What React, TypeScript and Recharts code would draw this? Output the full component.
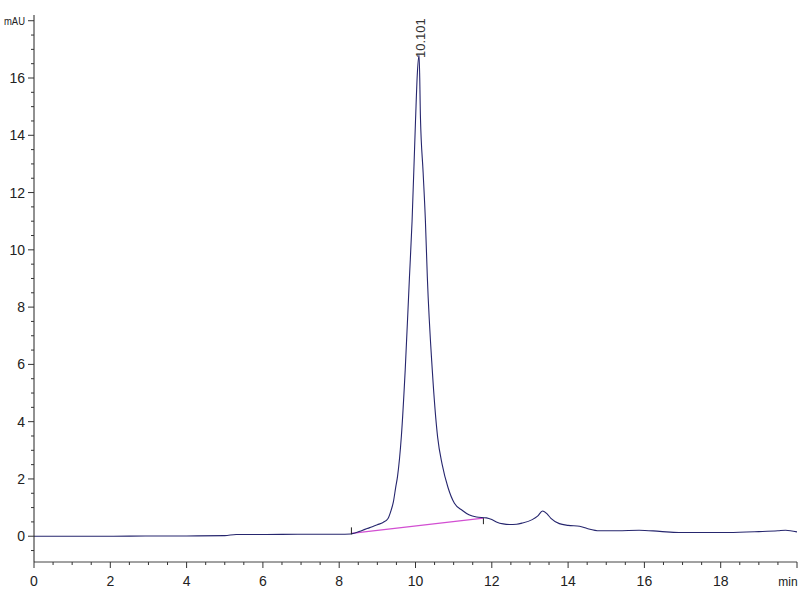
import React from 'react';
import { LineChart, Line, XAxis, YAxis, ReferenceDot } from 'recharts';

const timeMin = [0, 1, 2, 3, 4, 5, 5.3, 6, 7, 8, 8.3, 8.6, 8.8, 9.0, 9.15, 9.28, 9.36, 9.42, 9.48, 9.53, 9.63, 9.73, 9.84, 9.91, 10.0, 10.05, 10.095, 10.13, 10.2, 10.26, 10.31, 10.44, 10.58, 10.7, 10.85, 11.02, 11.23, 11.4, 11.6, 11.86, 12.0, 12.12, 12.3, 12.46, 12.65, 12.8, 13.06, 13.2, 13.33, 13.45, 13.55, 13.77, 14.0, 14.3, 14.5, 14.82, 15.3, 15.86, 16.4, 16.9, 17.5, 18.2, 19.0, 19.5, 19.7, 20.0];
const signalMAU = [0.0, 0.0, 0.0, 0.01, 0.01, 0.02, 0.06, 0.06, 0.07, 0.07, 0.08, 0.2, 0.3, 0.4, 0.48, 0.62, 0.9, 1.2, 1.7, 2.1, 3.5, 5.8, 9.0, 11.0, 14.5, 16.2, 16.8, 14.6, 12.7, 11.0, 9.05, 5.8, 3.46, 2.5, 1.71, 1.15, 0.9, 0.75, 0.67, 0.64, 0.58, 0.5, 0.43, 0.41, 0.42, 0.46, 0.58, 0.7, 0.88, 0.78, 0.62, 0.44, 0.38, 0.35, 0.27, 0.19, 0.19, 0.21, 0.17, 0.13, 0.13, 0.13, 0.16, 0.19, 0.21, 0.15];

const baselineTime = [8.32, 11.78];
const baselineMAU = [0.1, 0.63];

const peakTime = 10.101;
const peakMAU = 16.8;
const peakLabel = '10.101';

const xMajorTicks = [0, 2, 4, 6, 8, 10, 12, 14, 16, 18, 20];
const xTickLabels = ['0', '2', '4', '6', '8', '10', '12', '14', '16', '18', 'min'];
const yMajorTicks = [0, 2, 4, 6, 8, 10, 12, 14, 16, 18];
const yTickLabels = ['0', '2', '4', '6', '8', '10', '12', '14', '16', 'mAU'];

const xAllTicks: number[] = [];
for (let i = 0; i <= 40; i++) xAllTicks.push(i / 2);
const yAllTicks: number[] = [];
for (let i = -1; i <= 36; i++) yAllTicks.push(i / 2);

const data = timeMin.map((t, i) => ({ t, v: signalMAU[i] }));
const baseData = baselineTime.map((t, i) => ({ t, b: baselineMAU[i] }));

const FONT = '"Liberation Sans Narrow", "Arial Narrow", "Liberation Sans", Arial, sans-serif';

const XTick = (props: any) => {
  const { x, y, payload } = props;
  const v = payload.value;
  const idx = xMajorTicks.indexOf(v);
  const major = idx >= 0;
  const label = major ? xTickLabels[idx] : '';
  const isUnit = label === 'min';
  return (
    <g>
      <line x1={x} x2={x} y1={y} y2={y + (major ? 6 : 3)} stroke="#333" strokeWidth={1} />
      {major && (
        <text
          x={isUnit ? x - 9 : x}
          y={y + 24}
          textAnchor="middle"
          fontSize={isUnit ? 12 : 14}
          fontFamily={FONT}
          fill="#222"
        >
          {label}
        </text>
      )}
    </g>
  );
};

const YTick = (props: any) => {
  const { x, y, payload } = props;
  const v = payload.value;
  const idx = yMajorTicks.indexOf(v);
  const major = idx >= 0;
  const label = major ? yTickLabels[idx] : '';
  const isUnit = label === 'mAU';
  return (
    <g>
      <line x1={x - (major ? 6 : 3)} x2={x} y1={y} y2={y} stroke="#333" strokeWidth={1} />
      {major && (
        <text
          x={x - 9}
          y={y}
          textAnchor="end"
          dominantBaseline="central"
          fontSize={isUnit ? 11 : 14}
          fontFamily={FONT}
          fill="#222"
          {...(isUnit ? { textLength: 21, lengthAdjust: 'spacingAndGlyphs' } : {})}
        >
          {label}
        </text>
      )}
    </g>
  );
};

const PeakLabel = (props: any) => {
  const { cx, cy } = props;
  const tx = cx + 1;
  const ty = cy - 17;
  return (
    <text
      x={tx}
      y={ty}
      transform={`rotate(-90 ${tx} ${ty})`}
      textAnchor="middle"
      dominantBaseline="central"
      fontSize={13}
      fontFamily='"Liberation Sans", Arial, sans-serif'
      fill="#333"
    >
      {peakLabel}
    </text>
  );
};

const StartMark = (props: any) => {
  const { cx, cy } = props;
  return <line x1={cx} x2={cx} y1={cy - 6} y2={cy + 1} stroke="#222" strokeWidth={1} />;
};

const EndMark = (props: any) => {
  const { cx, cy } = props;
  return <line x1={cx} x2={cx} y1={cy} y2={cy + 6} stroke="#222" strokeWidth={1} />;
};

export default function App() {
  return (
    <div style={{ position: 'absolute', left: 0, top: 0, width: 800, height: 600, background: '#fff' }}>
      <LineChart width={800} height={600} data={data} margin={{ top: 15, right: 3, left: 0, bottom: 0 }}>
        <XAxis
          dataKey="t"
          type="number"
          domain={[0, 20]}
          ticks={xAllTicks}
          interval={0}
          allowDataOverflow
          height={38}
          tickSize={0}
          tickMargin={0}
          tickLine={false}
          axisLine={{ stroke: '#444', strokeWidth: 1 }}
          tick={<XTick />}
        />
        <YAxis
          type="number"
          domain={[-0.9, 18.2]}
          ticks={yAllTicks}
          interval={0}
          allowDataOverflow
          width={34}
          tickSize={0}
          tickMargin={0}
          tickLine={false}
          axisLine={{ stroke: '#222', strokeWidth: 1 }}
          tick={<YTick />}
        />
        <Line
          data={baseData}
          dataKey="b"
          type="linear"
          stroke="#d24fd2"
          strokeWidth={1.3}
          dot={false}
          isAnimationActive={false}
        />
        <Line
          dataKey="v"
          type="monotone"
          stroke="#26266e"
          strokeWidth={1.1}
          dot={false}
          isAnimationActive={false}
        />
        <ReferenceDot x={baselineTime[0]} y={baselineMAU[0]} r={0} shape={<StartMark />} />
        <ReferenceDot x={baselineTime[1]} y={baselineMAU[1]} r={0} shape={<EndMark />} />
        <ReferenceDot x={peakTime} y={peakMAU} r={0} shape={<PeakLabel />} />
      </LineChart>
    </div>
  );
}
